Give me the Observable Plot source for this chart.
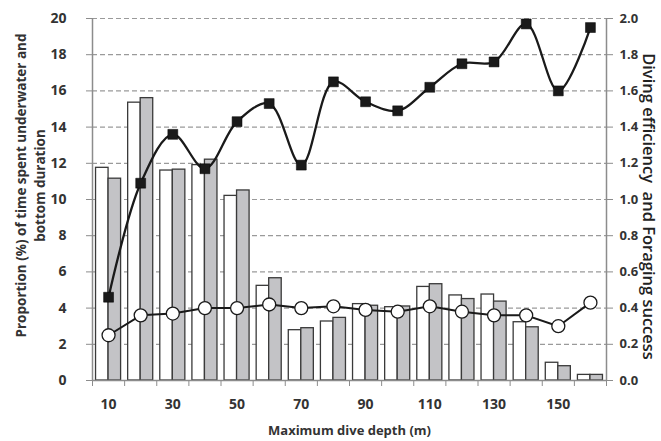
<!DOCTYPE html>
<html>
<head>
<meta charset="utf-8">
<script src="https://cdn.jsdelivr.net/npm/d3@7"></script>
<script src="https://cdn.jsdelivr.net/npm/@observablehq/plot@0.6"></script>
<style>
  html, body { margin: 0; padding: 0; background: #fff; }
  #chart svg { font-family: "Open Sans", sans-serif; }
</style>
</head>
<body>
<div id="chart"></div>
<script>
const depth = [10, 20, 30, 40, 50, 60, 70, 80, 90, 100, 110, 120, 130, 140, 150, 160];
const underwater = [11.75, 15.35, 11.6, 11.9, 10.2, 5.23, 2.78, 3.26, 4.22, 4.05, 5.17, 4.7, 4.75, 3.22, 0.98, 0.31];
const bottom = [11.15, 15.6, 11.65, 12.2, 10.5, 5.65, 2.89, 3.46, 4.13, 4.09, 5.32, 4.5, 4.36, 2.94, 0.79, 0.31];
const efficiency = [0.46, 1.09, 1.36, 1.17, 1.43, 1.53, 1.19, 1.65, 1.54, 1.49, 1.62, 1.75, 1.76, 1.97, 1.60, 1.95];
const foraging = [0.25, 0.36, 0.37, 0.40, 0.40, 0.42, 0.40, 0.41, 0.39, 0.38, 0.41, 0.38, 0.36, 0.36, 0.30, 0.43];
const xLabels = [10, 30, 50, 70, 90, 110, 130, 150];
const leftTicks = [0, 2, 4, 6, 8, 10, 12, 14, 16, 18, 20];
const rightTicks = [0, 0.2, 0.4, 0.6, 0.8, 1.0, 1.2, 1.4, 1.6, 1.8, 2.0];

const halfStep = 5;        // half of category spacing (depth units)
const barW = 3.9;          // bar width in depth units
const rightFactor = 10;    // right axis (0-2) mapped onto left (0-20)

const rows = depth.map((d, i) => ({
  depth: d, underwater: underwater[i], bottom: bottom[i],
  eff: efficiency[i] * rightFactor, forag: foraging[i] * rightFactor
}));
const bounds = depth.map(d => d - halfStep).concat([depth[depth.length - 1] + halfStep]);

const axisColor = "#8c8c8c";
const textColor = "#333";

const plot = Plot.plot({
  width: 661,
  height: 441,
  marginLeft: 92,
  marginRight: 55,
  marginTop: 18,
  marginBottom: 61,
  x: {domain: [depth[0] - halfStep, depth[depth.length - 1] + halfStep]},
  y: {domain: [0, 20]},
  style: {fontFamily: "Open Sans, sans-serif", fontSize: "13px", color: textColor, fontWeight: "bold"},
  marks: [
    Plot.ruleY(leftTicks.filter(t => t > 0), {stroke: "#9a9a9a", strokeDasharray: "5,3", strokeWidth: 1.2}),
    Plot.rectY(rows, {x1: d => d.depth - barW, x2: d => d.depth, y1: 0, y2: "underwater", fill: "#ffffff", stroke: "#3a3a3a", strokeWidth: 1.3}),
    Plot.rectY(rows, {x1: d => d.depth, x2: d => d.depth + barW, y1: 0, y2: "bottom", fill: "#c3c3c6", stroke: "#3a3a3a", strokeWidth: 1.3}),
    Plot.ruleX([depth[0] - halfStep], {stroke: axisColor, strokeWidth: 1.5}),
    Plot.ruleX([depth[depth.length - 1] + halfStep], {stroke: axisColor, strokeWidth: 1.5}),
    Plot.ruleY([0], {stroke: axisColor, strokeWidth: 1.5}),
    Plot.line(rows, {x: "depth", y: "forag", stroke: "#1a1a1a", strokeWidth: 2}),
    Plot.dot(rows, {x: "depth", y: "forag", r: 6.5, fill: "#fff", stroke: "#1a1a1a", strokeWidth: 1.3}),
    Plot.line(rows, {x: "depth", y: "eff", curve: "catmull-rom", stroke: "#1a1a1a", strokeWidth: 2.3}),
    Plot.dot(rows, {x: "depth", y: "eff", symbol: "square", r: 5.6, fill: "#1a1a1a", stroke: "#000", strokeWidth: 0.5}),
    Plot.axisY({ticks: leftTicks, anchor: "left", tickSize: 6, tickPadding: 20, stroke: axisColor, fill: textColor, fontWeight: "bold", fontSize: 14, label: null}),
    Plot.axisY({ticks: leftTicks, anchor: "right", tickSize: 6, tickPadding: 7, stroke: axisColor, fill: textColor, fontWeight: "bold", fontSize: 13,
      tickFormat: d => (d / rightFactor).toFixed(1), label: null}),
    Plot.axisX({ticks: bounds, tickSize: 6, tickFormat: () => "", stroke: axisColor, label: null}),
    Plot.axisX({ticks: xLabels, tickSize: 0, tickPadding: 19, fill: textColor, fontWeight: "bold", fontSize: 14, label: null}),
    Plot.text(["Maximum dive depth (m)"], {frameAnchor: "bottom", dy: 54, fontWeight: "bold", fontSize: 13, fill: textColor}),
    Plot.text(["Proportion (%) of time spent underwater and\nbottom duration"], {frameAnchor: "left", textAnchor: "middle", lineAnchor: "middle", dx: -63, dy: -14, rotate: -90, fontWeight: "bold", fontSize: 13.5, fill: textColor, lineHeight: 1.4}),
    Plot.text(["Diving efficiency  and Foraging success"], {frameAnchor: "right", textAnchor: "middle", lineAnchor: "middle", dx: 42, dy: 7, rotate: 90, fontWeight: 600, fontSize: 16.5, fill: "#222"})
  ]
});
document.getElementById("chart").appendChild(plot);
</script>
</body>
</html>
